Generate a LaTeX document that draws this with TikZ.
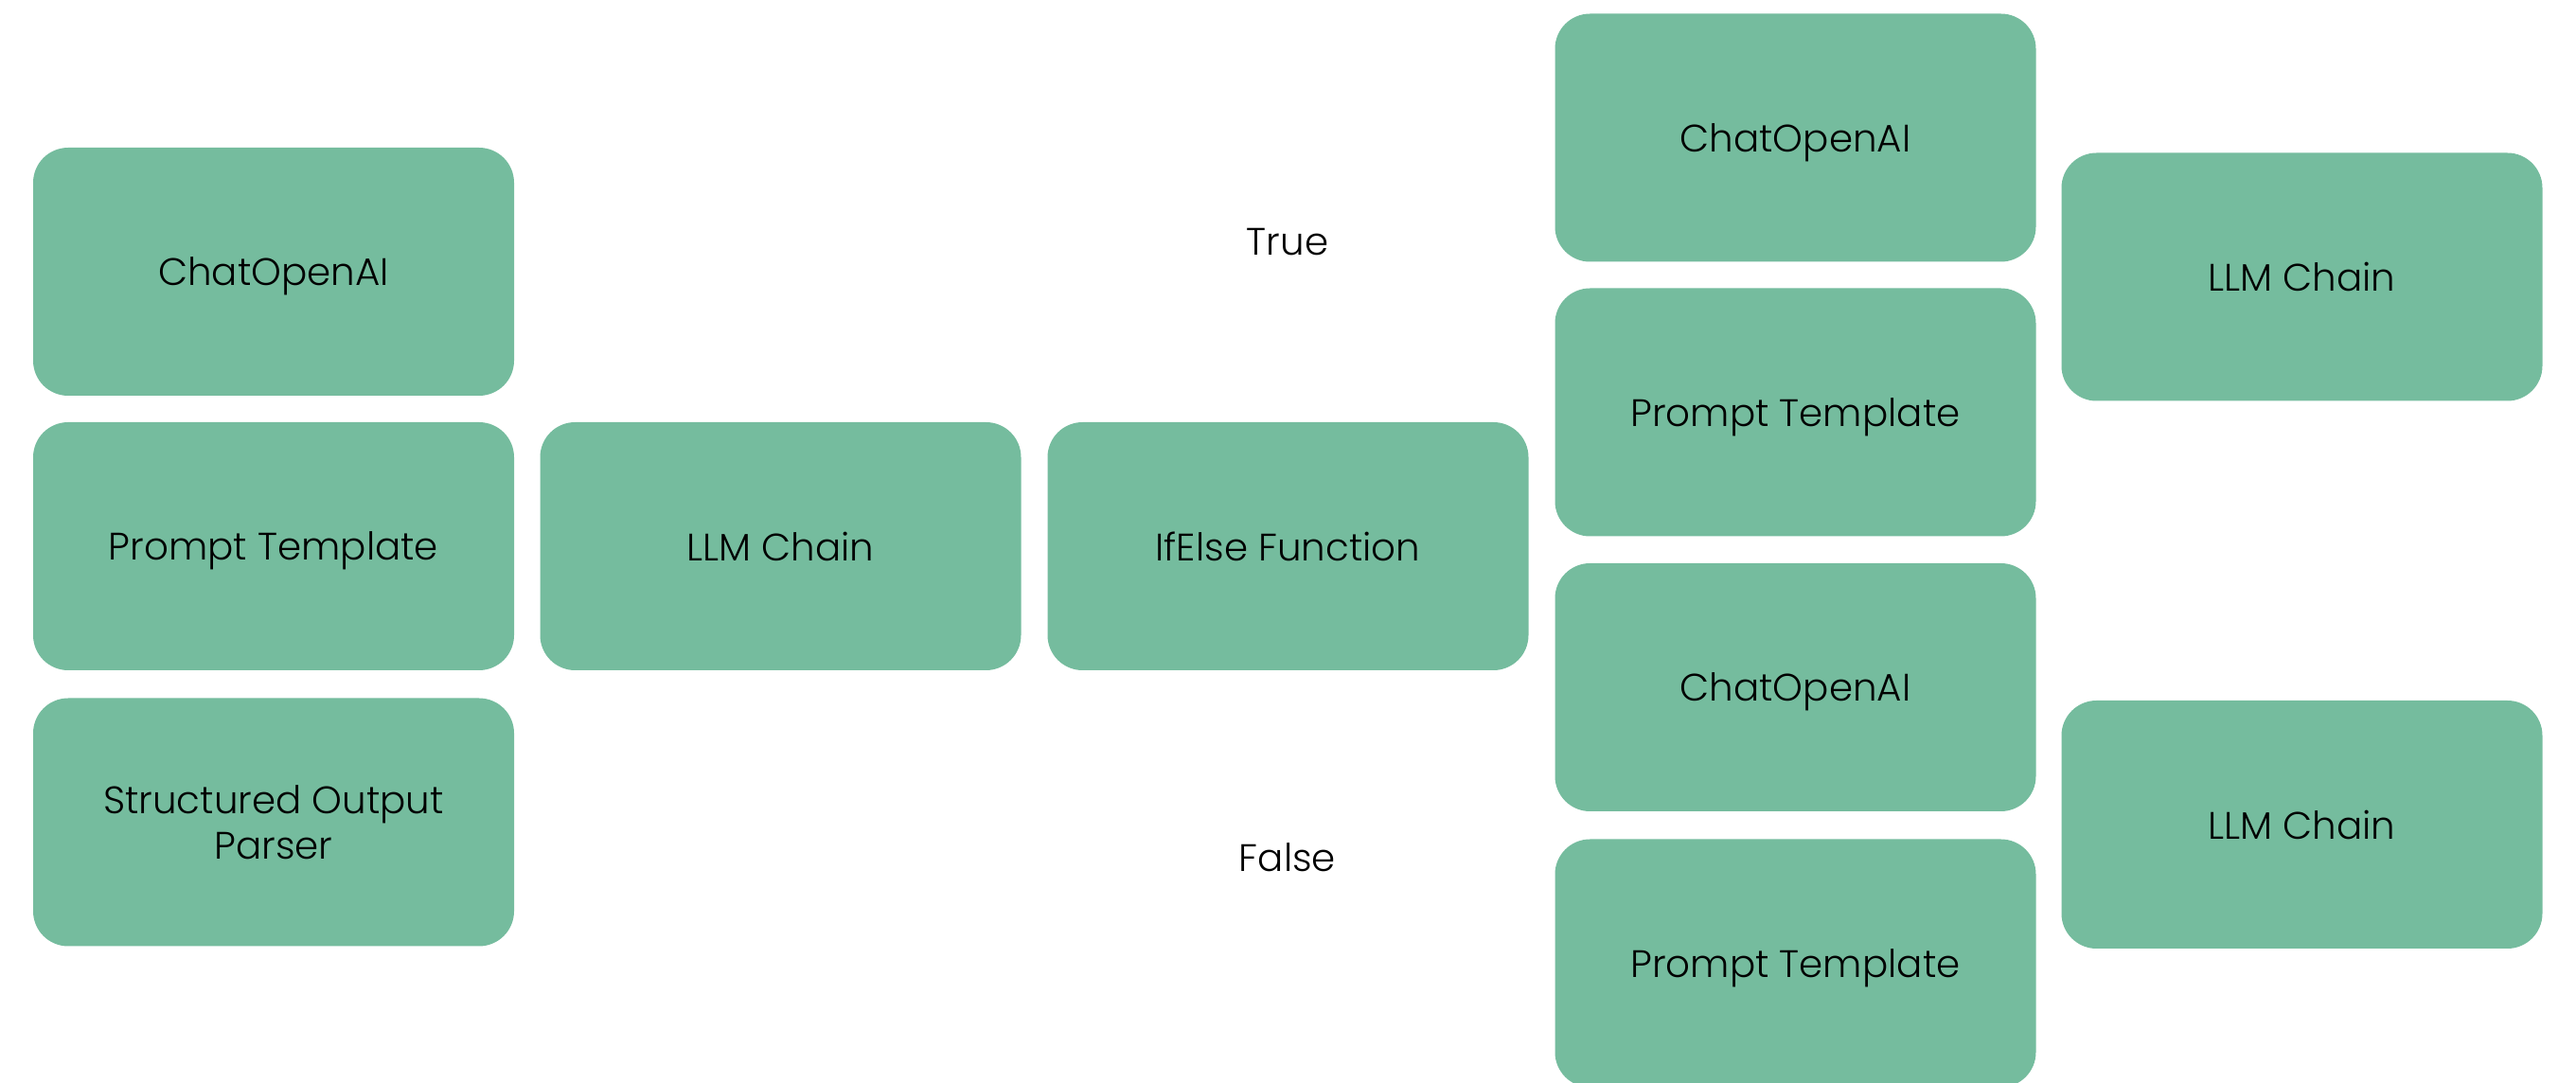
\documentclass[tikz,border=0pt]{standalone}
\usepackage{fontspec}
\setmainfont{Poppins Light}
\definecolor{nodegreen}{RGB}{117,188,158}
\tikzset{
  box/.style={fill=nodegreen, rounded corners=0.37cm, minimum width=5.08cm,
    minimum height=2.62cm, inner sep=0pt, align=center, text depth=0pt,
    font=\fontsize{11.5}{13.8}\selectfont},
  lbl/.style={font=\fontsize{11.5}{13.8}\selectfont}
}
\begin{document}
\begin{tikzpicture}
      \clip (0,0) rectangle (27.21,-11.44);
      \draw
        (2.89,-2.87) node[box] (chat1){ChatOpenAI}
        (2.89,-5.77) node[box] (prompt1){Prompt Template}
        (2.89,-8.685) node[box] (parser){Structured Output\\Parser}
        (8.245,-5.77) node[box] (chain1){LLM Chain}
        (13.605,-5.77) node[box] (ifelse){IfElse Function}
        (18.965,-1.455) node[box] (chat2){ChatOpenAI}
        (18.965,-4.355) node[box] (prompt2){Prompt Template}
        (18.965,-7.26) node[box] (chat3){ChatOpenAI}
        (18.965,-10.175) node[box] (prompt3){Prompt Template}
        (24.315,-2.925) node[box] (chain2){LLM Chain}
        (24.315,-8.71) node[box] (chain3){LLM Chain};
      \node[lbl] (true) at (13.60,-2.56) {True};
      \node[lbl] (false) at (13.60,-9.06) {False};
    \end{tikzpicture}
\end{document}
